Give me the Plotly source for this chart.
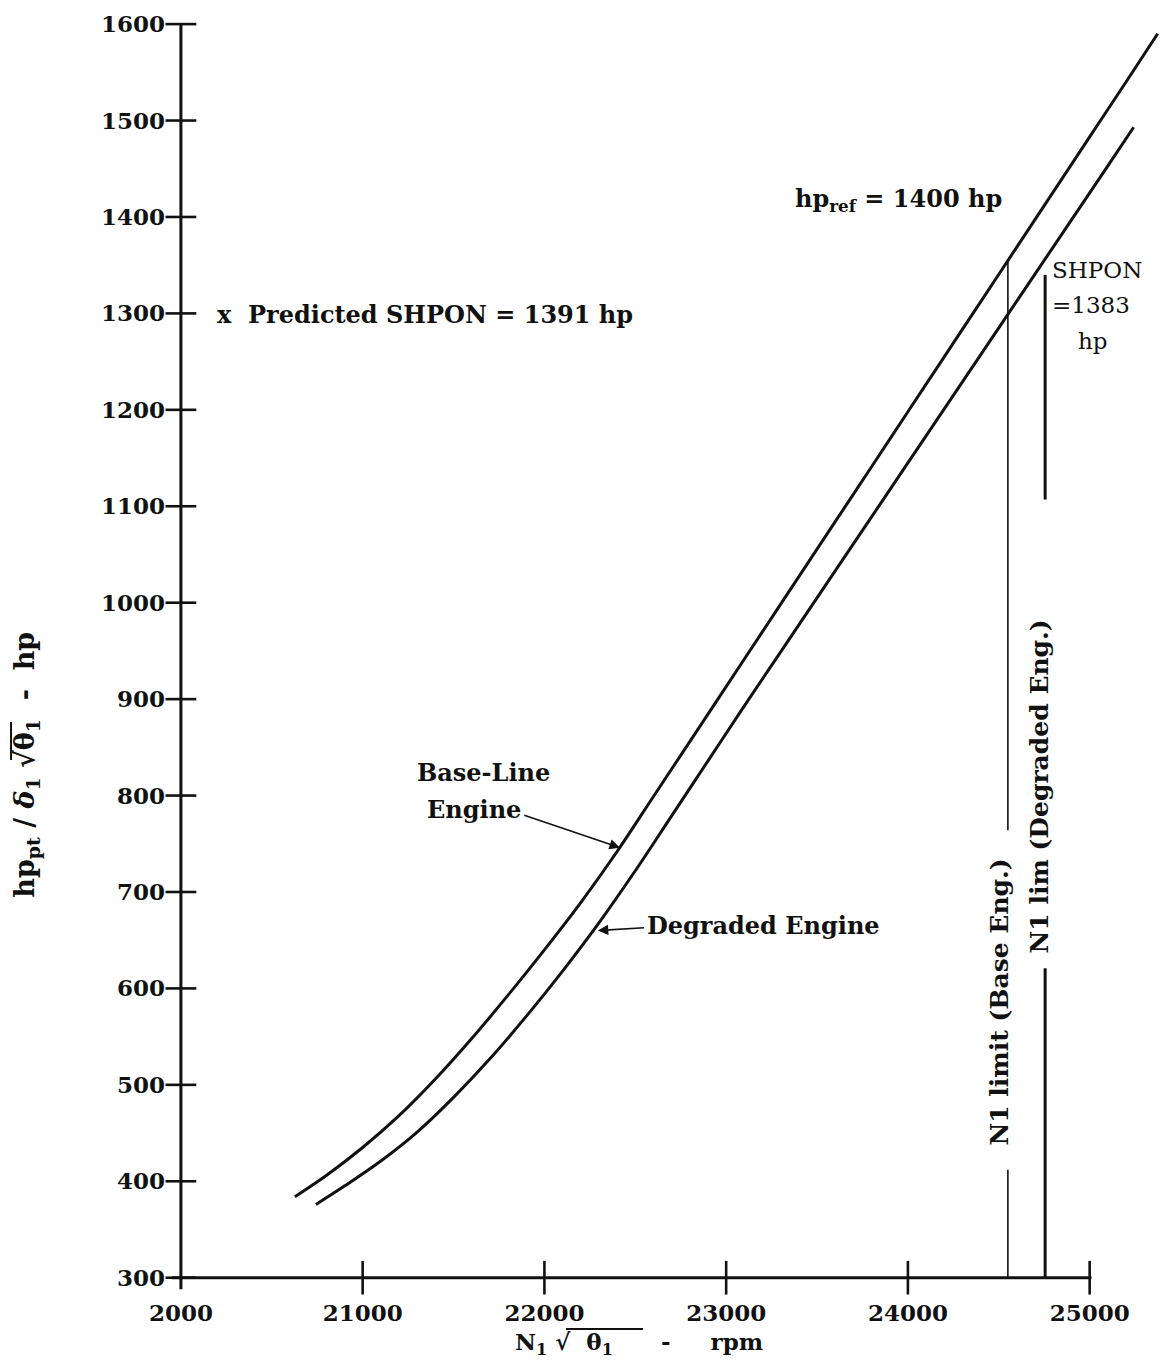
import plotly.graph_objects as go

# Corrected power-turbine horsepower vs corrected gas-generator speed
base_rpm = [20627, 20800, 21000, 21200, 21400, 21600, 21800, 22000, 22200, 22400,
            22600, 22800, 23000, 23200, 23400, 23600, 23800, 24000, 24200, 24400,
            24600, 24800, 25000, 25200, 25374]
base_hp = [384, 406, 435, 468, 506, 548, 593, 640, 689, 742,
           799, 856, 913, 970, 1027, 1084, 1141, 1198, 1255, 1312,
           1369, 1426, 1483, 1540, 1590]

degr_rpm = [20743, 20900, 21100, 21300, 21500, 21700, 21900, 22100, 22300, 22500,
            22700, 22900, 23100, 23300, 23500, 23700, 23900, 24100, 24300, 24500,
            24700, 24900, 25100, 25242]
degr_hp = [376, 395, 421, 451, 487, 527, 571, 618, 668, 722,
           779, 836, 893, 949, 1005, 1061, 1117, 1173, 1229, 1285,
           1341, 1397, 1453, 1493]

# N1 limit markers (rpm) and their drawn vertical extents (hp)
n1_lim_base = 24550
n1_lim_base_segments = [(300, 412), (764, 1356)]
n1_lim_degr = 24755
n1_lim_degr_segments = [(300, 621), (1107, 1340)]

x_ticks = [20000, 21000, 22000, 23000, 24000, 25000]
x_tick_text = ["2000", "21000", "22000", "23000", "24000", "25000"]
y_ticks = [300, 400, 500, 600, 700, 800, 900, 1000, 1100, 1200, 1300, 1400, 1500, 1600]

FONT = "DejaVu Serif"
INK = "#111111"
NB = "\u00a0"

fig = go.Figure()

for xs_, ys_ in ((base_rpm, base_hp), (degr_rpm, degr_hp)):
    fig.add_trace(go.Scatter(x=xs_, y=ys_, mode="lines",
                             line=dict(color=INK, width=3, shape="spline", smoothing=1.0),
                             showlegend=False, hoverinfo="skip"))


def seg_xy(xv, segments):
    xs, ys = [], []
    for lo, hi in segments:
        xs += [xv, xv, None]
        ys += [lo, hi, None]
    return xs, ys


xs, ys = seg_xy(n1_lim_base, n1_lim_base_segments)
fig.add_trace(go.Scatter(x=xs, y=ys, mode="lines", line=dict(color=INK, width=1.6),
                         showlegend=False, hoverinfo="skip"))
xs, ys = seg_xy(n1_lim_degr, n1_lim_degr_segments)
fig.add_trace(go.Scatter(x=xs, y=ys, mode="lines", line=dict(color=INK, width=3),
                         showlegend=False, hoverinfo="skip"))

# Cross-style tick marks on both axes
fig.add_trace(go.Scatter(x=[x_ticks[0]] * len(y_ticks), y=y_ticks, mode="markers",
                         marker=dict(symbol="line-ew", size=22,
                                     line=dict(color=INK, width=2.6)),
                         showlegend=False, hoverinfo="skip", cliponaxis=False))
fig.add_trace(go.Scatter(x=x_ticks[1:], y=[y_ticks[0]] * (len(x_ticks) - 1), mode="markers",
                         marker=dict(symbol="line-ns", size=24,
                                     line=dict(color=INK, width=2.6)),
                         showlegend=False, hoverinfo="skip", cliponaxis=False))

# Axis lines
fig.add_shape(type="line", x0=x_ticks[0], x1=x_ticks[0], y0=288, y1=y_ticks[-1],
              line=dict(color=INK, width=3))
fig.add_shape(type="line", x0=19950, x1=25010, y0=y_ticks[0], y1=y_ticks[0],
              line=dict(color=INK, width=3))

bold = dict(family=FONT, size=24, color=INK)
reg = dict(family=FONT, size=23, color=INK)
vert = dict(family=FONT, size=25, color=INK)


def note(text, x, y, xanchor="center", font=bold, angle=0):
    fig.add_annotation(text=text, x=x, y=y, xref="x", yref="y",
                       xanchor=xanchor, yanchor="middle", showarrow=False,
                       font=font, textangle=angle)


note("<b>x" + NB * 2 + "Predicted SHPON = 1391 hp</b>", 20187, 1299, xanchor="left")
note("<b>hp<sub>ref</sub> = 1400 hp</b>", 23366, 1418, xanchor="left")
note("SHPON", 24780, 1345, xanchor="left", font=reg)
note("=1383", 24780, 1309, xanchor="left", font=reg)
note("hp", 25017, 1271, font=reg)
note("<b>Base-Line</b>", 21667, 824)
note("<b>Engine</b>", 21612, 786)
note("<b>Degraded Engine</b>", 22556, 665, xanchor="left")
note("<b>N1 limit (Base Eng.)</b>", 24505, 586, font=vert, angle=-90)
note("<b>N1 lim (Degraded Eng.)</b>", 24725, 809, font=vert, angle=-90)

# Leader arrows to the curves
fig.add_annotation(x=22415, y=746, ax=21881, ay=780, axref="x", ayref="y",
                   xref="x", yref="y", text="", showarrow=True,
                   arrowhead=2, arrowsize=1.3, arrowwidth=1.6, arrowcolor=INK)
fig.add_annotation(x=22294, y=660, ax=22556, ay=663, axref="x", ayref="y",
                   xref="x", yref="y", text="", showarrow=True,
                   arrowhead=2, arrowsize=1.3, arrowwidth=1.6, arrowcolor=INK)

# Axis titles
fig.add_annotation(text="<b>hp<sub>pt</sub>" + NB + "/" + NB + "<i>δ</i><sub>1</sub>" + NB
                        + "√θ<sub>1</sub>" + NB * 2 + "-" + NB * 2 + "hp</b>",
                   xref="paper", yref="y", x=-0.1436, y=832, textangle=-90,
                   showarrow=False, font=dict(family=FONT, size=27, color=INK),
                   xanchor="center", yanchor="middle")
fig.add_annotation(text="<b>N<sub>1</sub>" + NB + "√" + NB * 2 + "θ<sub>1</sub>" + NB * 6 + "-"
                        + NB * 5 + "rpm</b>",
                   xref="x", yref="paper", x=21826, y=-0.0355,
                   showarrow=False, font=dict(family=FONT, size=23, color=INK),
                   xanchor="left", yanchor="middle")

# Radical vincula over θ1 in both titles
fig.add_shape(type="line", xref="paper", yref="paper", x0=0.3976, x1=0.4749,
              y0=-0.0247, y1=-0.0247, line=dict(color=INK, width=2))
fig.add_shape(type="line", xref="paper", yref="paper", x0=-0.1596, x1=-0.1596,
              y0=0.414, y1=0.4433, line=dict(color=INK, width=2))

fig.update_layout(
    width=1169, height=1366,
    margin=dict(l=170, r=3, t=0, b=69),
    paper_bgcolor="white", plot_bgcolor="white",
    xaxis=dict(range=[19940, 25420], showgrid=False, zeroline=False, showline=False,
               tickmode="array", tickvals=x_ticks, ticktext=["<b>%s</b>" % t for t in x_tick_text],
               ticks="", tickfont=dict(family=FONT, size=23, color=INK)),
    yaxis=dict(range=[280, 1625], showgrid=False, zeroline=False, showline=False,
               tickmode="array", tickvals=y_ticks, ticktext=["<b>%d</b>" % v for v in y_ticks],
               ticks="", ticklabelstandoff=4, tickfont=dict(family=FONT, size=23, color=INK)),
)

fig.write_html("out.html")
